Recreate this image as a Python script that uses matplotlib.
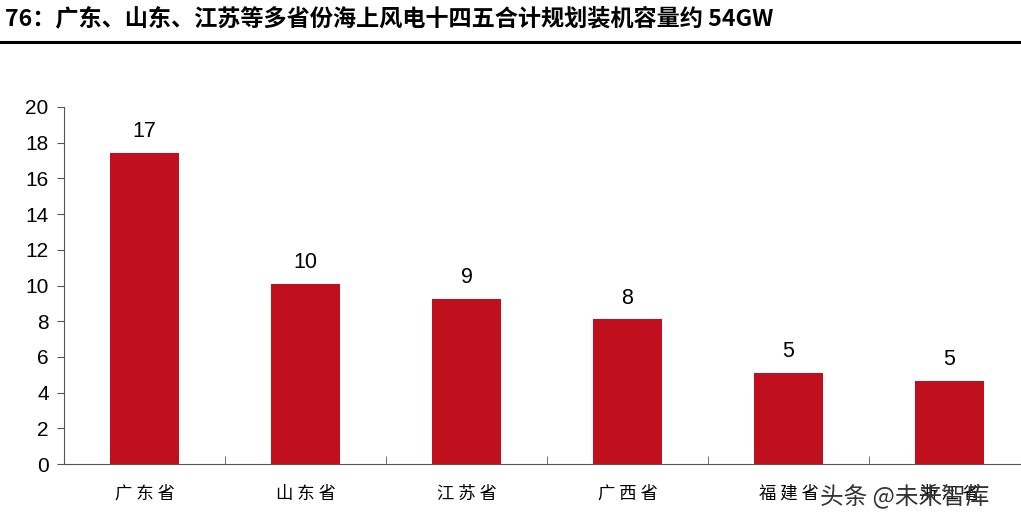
import matplotlib
matplotlib.use('Agg')
import matplotlib.pyplot as plt

plt.rcParams['font.family'] = ['Liberation Sans', 'Noto Sans CJK SC', 'DejaVu Sans']

provinces = ['广东省', '山东省', '江苏省', '广西省', '福建省', '浙江省']
capacity = [17.45, 10.1, 9.25, 8.1, 5.1, 4.65]
value_labels = ['17', '10', '9', '8', '5', '5']
title = '76：广东、山东、江苏等多省份海上风电十四五合计规划装机容量约 54GW'

W, H = 1021, 526
fig = plt.figure(figsize=(W / 100, H / 100), dpi=100)

# title and rule line
fig.text(5 / W, 1 - 19 / H, title, fontsize=16.7, fontweight='bold',
         family=['Noto Sans CJK SC', 'DejaVu Sans'], va='center', ha='left')
fig.add_artist(plt.Line2D([0, 1], [1 - 42 / H, 1 - 42 / H], color='black', lw=2.2))

ax = fig.add_axes([64 / W, 1 - 464 / H, 966 / W, 357 / H])
x = range(len(provinces))
ax.bar(x, capacity, width=0.43, color='#C0101E', zorder=2)
for i, (v, lab) in enumerate(zip(capacity, value_labels)):
    ax.text(i, v + 0.6, lab, ha='center', va='bottom', fontsize=15.5)

ax.set_xlim(-0.5, len(provinces) - 0.5)
ax.set_ylim(0, 20)
ax.set_yticks(range(0, 21, 2))
ax.tick_params(axis='y', labelsize=15, direction='out', length=5, color='#555555', pad=6)

ax.set_xticks(x)
ax.set_xticklabels([' '.join(p) for p in provinces], family=['Noto Sans CJK SC'], fontsize=12.5)
ax.tick_params(axis='x', length=0, pad=15)
# category separators
ax.set_xticks([i + 0.5 for i in range(len(provinces) - 1)], minor=True)
ax.tick_params(axis='x', which='minor', direction='in', length=6, color='#555555')

for s in ['top', 'right']:
    ax.spines[s].set_visible(False)
ax.spines['left'].set_color('#555555')
ax.spines['bottom'].set_color('#555555')

# watermark
fig.text(820 / W, 1 - 496 / H, '头条 @未来智库', fontsize=17, color='#333333',
         family=['Noto Sans CJK SC'], va='center', ha='left')

fig.savefig('out.png', dpi=100)
